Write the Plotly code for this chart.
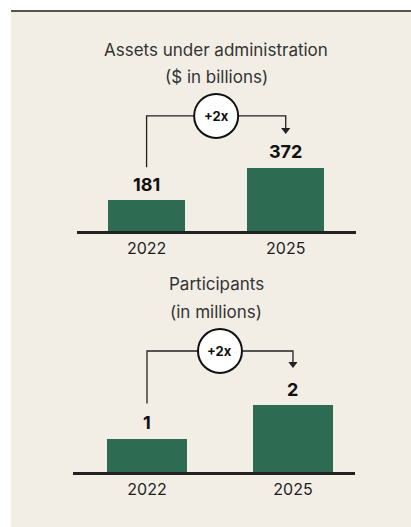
import plotly.graph_objects as go

W, H = 411, 527

years = ["2022", "2025"]
assets = [181, 372]
participants = [1, 2]
titles = [["Assets under administration", "($ in billions)"],
          ["Participants", "(in millions)"]]
badge = "+2x"

BG = "#F2EEE6"
GREEN = "#2E6B53"
INK = "#1E1E1E"
FONT = "Inter"


def px_x(v):
    return v / W


def px_y(v):
    return 1 - v / H


# panel geometry (pixels): x-domain, baseline, top of plot area, px per unit
panels = [
    dict(vals=assets, xd=(77, 356), base=231, top=88, scale=0.1695,
         xr=(-0.5, 1.505), title_y=(50, 77), gaps=(33, 52, 34)),
    dict(vals=participants, xd=(73, 355), base=472, top=322, scale=33.5,
         xr=(-0.507, 1.425), title_y=(284, 312), gaps=(35, 54, 37)),
]

fig = go.Figure()
shapes = []
annotations = []

# background panel and top rule
shapes.append(dict(type="rect", xref="paper", yref="paper", x0=px_x(11), x1=1,
                   y0=0, y1=px_y(11), fillcolor=BG, line=dict(width=0), layer="below"))
shapes.append(dict(type="line", xref="paper", yref="paper", x0=px_x(11), x1=1,
                   y0=px_y(11), y1=px_y(11), line=dict(color="#555555", width=2)))

xs = list(range(len(years)))

for i, p in enumerate(panels):
    sfx = "" if i == 0 else str(i + 1)
    xa, ya = "x" + sfx, "y" + sfx
    s = p["scale"]
    ymax = (p["base"] - p["top"]) / s
    vals = p["vals"]

    fig.add_trace(go.Bar(x=xs, y=vals, width=0.55, marker=dict(color=GREEN, line=dict(width=0)),
                         xaxis=xa, yaxis=ya, hoverinfo="skip", showlegend=False))

    fig.layout["xaxis" + sfx] = dict(
        domain=[px_x(p["xd"][0]), px_x(p["xd"][1])], range=list(p["xr"]), anchor=ya,
        tickvals=xs, ticktext=years, showgrid=False, zeroline=False, showline=True,
        linecolor="#222222", linewidth=3, ticks="", fixedrange=True,
        tickfont=dict(family=FONT, size=16, color=INK), ticklabelstandoff=1)
    fig.layout["yaxis" + sfx] = dict(
        domain=[px_y(p["base"]), px_y(p["top"])], range=[0, ymax], anchor=xa,
        visible=False, fixedrange=True)

    # titles
    for t, ty in zip(titles[i], p["title_y"]):
        annotations.append(dict(xref="paper", yref="paper", x=px_x(216), y=px_y(ty),
                                text=t, showarrow=False, xanchor="center", yanchor="middle",
                                font=dict(family=FONT, size=17, color="#333333")))

    # value labels
    for x, v in zip(xs, vals):
        annotations.append(dict(xref=xa, yref=ya, x=x, y=v, text=f"<b>{v}</b>",
                                showarrow=False, yanchor="middle", yshift=16,
                                font=dict(family=FONT, size=18, color="#111111")))

    # bracket
    g_start, g_level, g_tip = p["gaps"]
    y_start = vals[0] + g_start / s
    y_level = max(vals) + g_level / s
    y_tip = vals[1] + g_tip / s
    y_tri = y_tip + 4 / s
    shapes.append(dict(type="path", xref=xa, yref=ya,
                       path=f"M {xs[0]},{y_start} L {xs[0]},{y_level} L {xs[1]},{y_level} L {xs[1]},{y_tri}",
                       line=dict(color="#222222", width=1.3)))
    fig.add_trace(go.Scatter(x=[xs[1]], y=[y_tri], mode="markers",
                             marker=dict(symbol="triangle-down", size=8, color="#222222"),
                             xaxis=xa, yaxis=ya, hoverinfo="skip", showlegend=False))
    xm = (xs[0] + xs[1]) / 2
    shapes.append(dict(type="circle", xref=xa, yref=ya, xsizemode="pixel", ysizemode="pixel",
                       xanchor=xm, yanchor=y_level, x0=-22, x1=22, y0=-22, y1=22,
                       fillcolor="white", line=dict(color="#111111", width=2)))
    annotations.append(dict(xref=xa, yref=ya, x=xm, y=y_level, text=f"<b>{badge}</b>",
                            showarrow=False, xanchor="center", yanchor="middle",
                            font=dict(family=FONT, size=13, color="#111111")))

fig.update_layout(width=W, height=H, margin=dict(l=0, r=0, t=0, b=0),
                  paper_bgcolor="white", plot_bgcolor="rgba(0,0,0,0)",
                  shapes=shapes, annotations=annotations, bargap=0)

fig.write_html("out.html", config=dict(displayModeBar=False))
